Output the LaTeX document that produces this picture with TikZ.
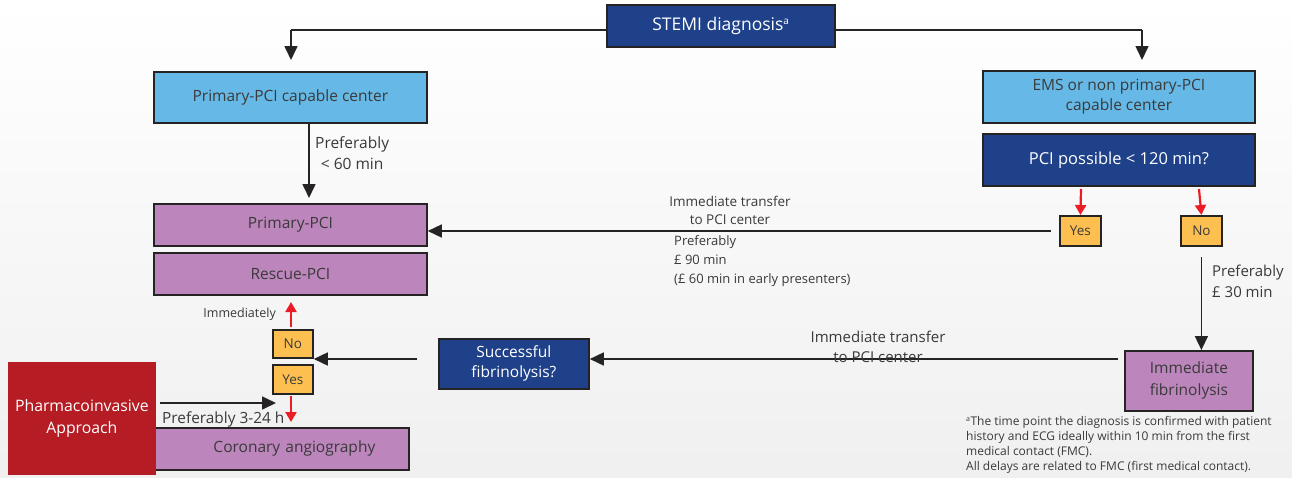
\documentclass[tikz,border=0pt]{standalone}
\usepackage{fontspec}
\setmainfont{Open Sans}
\usetikzlibrary{arrows.meta,positioning}
\definecolor{dblue}{HTML}{1E418A}
\definecolor{lblue}{HTML}{66B9E7}
\definecolor{purp}{HTML}{BC85BC}
\definecolor{orng}{HTML}{FDC050}
\definecolor{dred}{HTML}{B51C24}
\definecolor{edge}{HTML}{262324}
\definecolor{txt}{HTML}{3A3A3A}
\definecolor{redarr}{HTML}{EC1C24}
\tikzset{
  box/.style={draw=edge,line width=1.8pt,inner sep=0pt,anchor=north west,align=center,font=\fontsize{15.5}{19}\selectfont},
  lbox/.style={box,fill=lblue,text=txt},
  dbox/.style={box,fill=dblue,text=white},
  pbox/.style={box,fill=purp,text=txt},
  ybox/.style={box,fill=orng,text=txt,font=\fontsize{13.5}{15}\selectfont},
  conn/.style={line width=1.6pt,draw=edge,-{Triangle[length=14pt,width=13pt]}},
  plain/.style={line width=1.6pt,draw=edge},
  redar/.style={line width=2.2pt,draw=redarr,-{Triangle[length=10pt,width=11pt]}},
  lbl/.style={text=txt,font=\fontsize{14.5}{20}\selectfont,inner sep=0pt},
}
\begin{document}
\begin{tikzpicture}[x=1pt,y=-1pt]
\shade[top color=white,bottom color=black!6] (0,0) rectangle (1292,477);
\useasboundingbox (0,0) rectangle (1292,477);
% boxes
\node[dbox,minimum width=228pt,minimum height=42pt,font=\fontsize{17.5}{22}\selectfont] (stemi) at (606,4) {STEMI diagnosis\textsuperscript{\fontsize{10}{10}\selectfont a}};
\node[lbox,minimum width=273pt,minimum height=51pt] (ppcc) at (153,71) {Primary-PCI capable center};
\node[pbox,minimum width=273pt,minimum height=42pt] (ppci) at (153,203) {Primary-PCI};
\node[pbox,minimum width=273pt,minimum height=42pt] (rpci) at (153,252) {Rescue-PCI};
\node[lbox,minimum width=272pt,minimum height=52pt,font=\fontsize{15.5}{20}\selectfont] (ems) at (982,70) {EMS or non primary-PCI\\capable center};
\node[dbox,minimum width=272pt,minimum height=52pt,font=\fontsize{16.5}{20}\selectfont] (poss) at (982,133) {PCI possible {<} 120 min?};
\node[ybox,minimum width=41pt,minimum height=30pt] (yes1) at (1059,215) {Yes};
\node[ybox,minimum width=41pt,minimum height=30pt] (no1) at (1180,215) {No};
\node[pbox,minimum width=128pt,minimum height=60pt,font=\fontsize{15.5}{22}\selectfont] (ifib) at (1124,350) {Immediate\\fibrinolysis};
\node[dbox,minimum width=150pt,minimum height=50pt,font=\fontsize{15.5}{20}\selectfont] (succ) at (438,338) {Successful\\fibrinolysis?};
\node[ybox,minimum width=40pt,minimum height=28pt] (no2) at (272,329) {No};
\node[ybox,minimum width=40pt,minimum height=29pt] (yes2) at (272,364) {Yes};
\node[pbox,minimum width=255pt,minimum height=42pt,text width=255pt] (cor) at (153,427) {\hspace*{26pt}Coronary angiography};
\node[box,draw=none,fill=dred,text=white,minimum width=148pt,minimum height=113pt,font=\fontsize{15.8}{22}\selectfont] (pharm) at (7,361) {Pharmacoinvasive\\Approach};
% top connectors
\coordinate (tl) at (291,30);
\coordinate (tr) at (1142,30);
\draw[plain] (stemi.west |- tl) -- (tl);
\draw[conn] (tl) -- (tl |- 0,60);
\draw[plain] (stemi.east |- tr) -- (tr);
\draw[conn] (tr) -- (tr |- 0,60);
% left column
\draw[conn] (309,122) -- (309,198);
\node[lbl,anchor=north west,align=center,font=\fontsize{15.5}{21}\selectfont] (l60) at (315,136) {Preferably\\{<} 60 min};
% Yes -> Primary-PCI
\coordinate (yl) at (1051,231);
\draw[conn] (yl) -- (ppci.east |- yl);
\node[lbl,anchor=south,align=center,font=\fontsize{13.5}{18}\selectfont] (itr1) at (730,225) {Immediate transfer\\to PCI center};
\node[lbl,anchor=north west,align=left,font=\fontsize{13}{19}\selectfont] (l90) at (674,235) {Preferably\\£ 90 min\\(£ 60 min in early presenters)};
% red arrows at top right
\draw[redar] (1081,189) -- (yes1.north);
\draw[redar] (1199,189) -- (no1.north);
% No -> immediate fibrinolysis
\draw[conn] (no1.south |- 0,257) -- (no1.south |- ifib.north);
\node[lbl,anchor=north west,align=left,font=\fontsize{15}{21}\selectfont] (l30) at (1212,265) {Preferably\\£ 30 min};
% immediate fibrinolysis -> successful
\coordinate (fl) at (1118,359);
\draw[conn] (fl) -- (succ.east |- fl);
\node[lbl,anchor=south,align=center,font=\fontsize{15}{20}\selectfont] (itr2) at (878,363) {Immediate transfer\\to PCI center};
% successful -> No/Yes
\coordinate (sl) at (417,359);
\draw[conn] (sl) -- (no2.east |- sl);
% red arrows left
\draw[redar] (291,327) -- (291,302);
\node[lbl,anchor=east,font=\fontsize{12.5}{14}\selectfont] (imm) at (276,314) {Immediately};
\draw[redar] (291,396) -- (291,422);
% pharmaco arrow
\coordinate (pa) at (160,403);
\draw[conn] (pa) -- (276,403);
\node[lbl,anchor=west,font=\fontsize{15.4}{18}\selectfont] (p324) at (162,419) {Preferably 3-24 h};
% footnote
\node[lbl,anchor=north west,align=left,font=\fontsize{12}{15}\selectfont] (foot) at (966,416) {\textsuperscript{\fontsize{7}{7}\selectfont a}The time point the diagnosis is confirmed with patient\\history and ECG ideally within 10 min from the first\\medical contact (FMC).\\All delays are related to FMC (first medical contact).};
\end{tikzpicture}
\end{document}
